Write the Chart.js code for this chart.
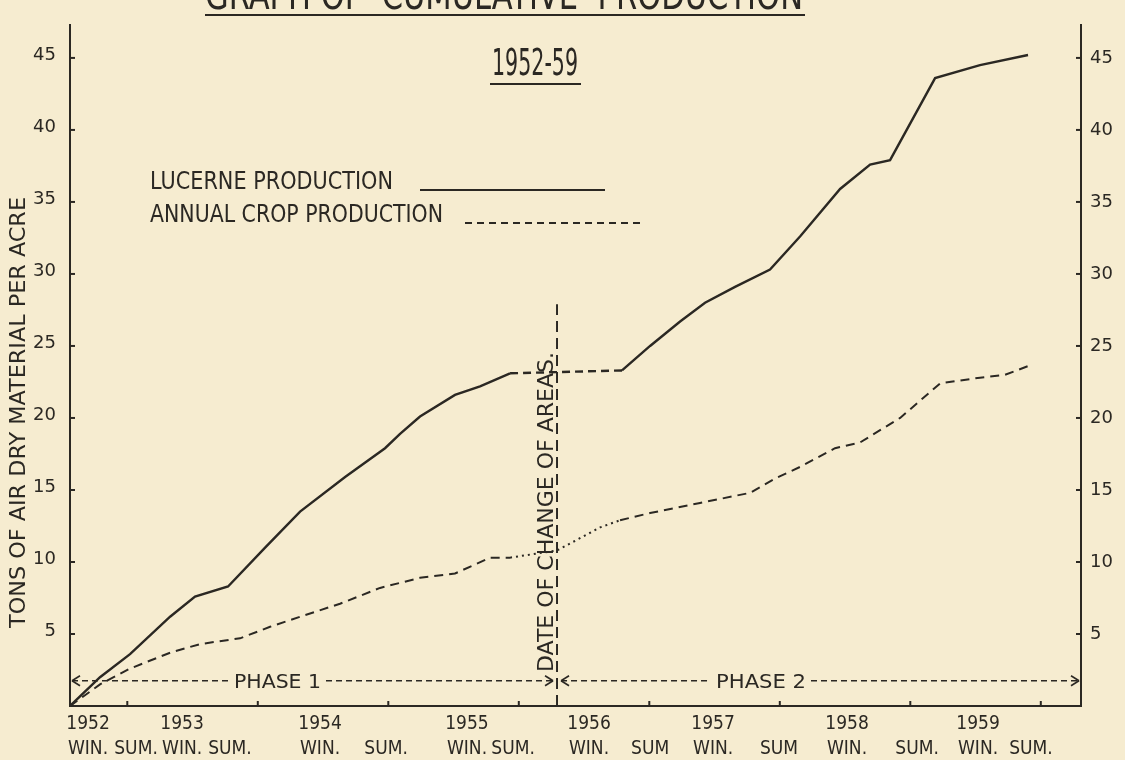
<!DOCTYPE html>
<html>
<head>
<meta charset="utf-8">
<title>Graph of cumulative production 1952-59</title>
<script src="https://cdn.jsdelivr.net/npm/chart.js@4.4.1/dist/chart.umd.min.js"></script>
<style>
  html, body { margin: 0; padding: 0; background: #f6ecd0; }
  #wrap { width: 1125px; height: 760px; position: relative; }
</style>
</head>
<body>
<div id="wrap"><canvas id="production-chart"></canvas></div>
<script>
// Data - x is the date as a decimal year, y is cumulative tons per acre

const lucerneYears = [1952.061, 1952.291, 1952.521, 1952.828, 1953.019, 1953.272, 1953.556, 1953.824,
  1954.169, 1954.475, 1954.590, 1954.743, 1955.011, 1955.203, 1955.433, 1956.291, 1956.506, 1956.736,
  1956.927, 1957.157, 1957.425, 1957.655, 1957.962, 1958.192, 1958.345, 1958.690, 1959.034, 1959.402];
const lucerneTons = [0, 2.0, 3.6, 6.2, 7.6, 8.3, 11.0, 13.5,
  15.9, 17.9, 18.9, 20.1, 21.6, 22.2, 23.1, 23.3, 25.0, 26.7,
  28.0, 29.1, 30.3, 32.6, 35.9, 37.6, 37.9, 43.6, 44.5, 45.2];

const annualYears = [1952.061, 1952.291, 1952.521, 1952.828, 1953.058, 1953.364, 1953.594, 1953.824,
  1954.130, 1954.437, 1954.743, 1955.011, 1955.280, 1955.433, 1955.793, 1956.123, 1956.276, 1956.506,
  1956.889, 1957.272, 1957.464, 1957.655, 1957.923, 1958.115, 1958.422, 1958.728, 1959.034, 1959.226, 1959.402];
const annualTons = [0, 1.5, 2.6, 3.7, 4.3, 4.7, 5.5, 6.2,
  7.1, 8.2, 8.9, 9.2, 10.3, 10.3, 10.8, 12.4, 12.9, 13.4,
  14.1, 14.8, 15.8, 16.6, 17.9, 18.3, 20.0, 22.4, 22.8, 23.0, 23.6];

const seasonLabels = ["WIN.", "SUM.", "WIN.", "SUM.", "WIN.", "SUM.", "WIN.", "SUM.",
  "WIN.", "SUM", "WIN.", "SUM", "WIN.", "SUM.", "WIN.", "SUM."];
const seasonYears = [1952.199, 1952.567, 1952.920, 1953.287, 1953.977, 1954.483, 1955.103, 1955.456,
  1956.038, 1956.506, 1956.989, 1957.494, 1958.015, 1958.552, 1959.019, 1959.425];
const yearLabels = ["1952", "1953", "1954", "1955", "1956", "1957", "1958", "1959"];
const midYearTicks = [1952.5, 1953.5, 1954.5, 1955.5, 1956.5, 1957.5, 1958.5, 1959.5];
const tonTicks = [5, 10, 15, 20, 25, 30, 35, 40, 45];

const changeDate = 1955.793;   // date of change of areas
const changeTop = 27.9;
const bridgeStart = 1955.433;  // lucerne dashed / annual dotted across the change
const bridgeEnd = 1956.291;
const phaseLevel = 1.75;

// Look

const ink = "#2b2823";
const paper = "#f6ecd0";
const face = "DejaVu Sans";
const narrow = "'Liberation Sans Narrow', 'DejaVu Sans Condensed', sans-serif";

const toPoints = (xs, ys) => xs.map((x, i) => ({ x: x, y: ys[i] }));
const inBridge = ctx => ctx.p0.parsed.x >= bridgeStart - 0.001 && ctx.p1.parsed.x <= bridgeEnd + 0.001;

// draw text squeezed or stretched to a given width
function fitText(ctx, text, x, y, width, size, angle) {
  ctx.save();
  ctx.font = size + "px " + face;
  const w = ctx.measureText(text).width;
  ctx.translate(x, y);
  if (angle) ctx.rotate(angle);
  ctx.scale(width / w, 1);
  ctx.textAlign = "left";
  ctx.textBaseline = "alphabetic";
  ctx.fillStyle = ink;
  ctx.fillText(text, 0, 0);
  ctx.restore();
}

function line(ctx, x0, y0, x1, y1, width, dash) {
  ctx.save();
  ctx.strokeStyle = ink;
  ctx.lineWidth = width;
  ctx.setLineDash(dash || []);
  ctx.beginPath();
  ctx.moveTo(x0, y0);
  ctx.lineTo(x1, y1);
  ctx.stroke();
  ctx.restore();
}

function phaseArrow(ctx, x0, x1, y, label, t0, t1) {
  line(ctx, x0 + 2, y, t0 - 5, y, 1.6, [6, 4]);
  line(ctx, t1 + 5, y, x1 - 2, y, 1.6, [6, 4]);
  line(ctx, x0 + 10, y - 5, x0 + 2, y, 1.6);
  line(ctx, x0 + 10, y + 5, x0 + 2, y, 1.6);
  line(ctx, x1 - 10, y - 5, x1 - 2, y, 1.6);
  line(ctx, x1 - 10, y + 5, x1 - 2, y, 1.6);
  fitText(ctx, label, t0, y + 7.5, t1 - t0, 20);
}

// Background

const paperPlugin = {
  id: "paper",
  beforeDraw(chart) {
    const ctx = chart.ctx;
    ctx.save();
    ctx.fillStyle = paper;
    ctx.fillRect(0, 0, chart.width, chart.height);
    ctx.restore();
  }
};

// Titles, legend, phases and the small inward ticks

const notesPlugin = {
  id: "notes",
  afterDatasetsDraw(chart) {
    const ctx = chart.ctx;
    const xs = chart.scales.x;
    const ys = chart.scales.y;
    const area = chart.chartArea;

    tonTicks.forEach(v => {
      const py = ys.getPixelForValue(v);
      line(ctx, area.left, py, area.left + 5, py, 2);
      line(ctx, area.right - 5, py, area.right, py, 2);
    });
    midYearTicks.forEach(v => {
      const px = xs.getPixelForValue(v);
      line(ctx, px, area.bottom, px, area.bottom - 5, 2);
    });

    // heading, cut by the top of the sheet
    fitText(ctx, "GRAPH OF  CUMULATIVE  PRODUCTION", 205, 9, 598, 40);
    line(ctx, 205, 15, 805, 15, 2);
    fitText(ctx, "1952-59", 492, 75, 86, 37);
    line(ctx, 490, 84, 581, 84, 2);

    // legend
    fitText(ctx, "LUCERNE PRODUCTION", 150, 189, 243, 24);
    line(ctx, 420, 190, 605, 190, 2.2);
    fitText(ctx, "ANNUAL CROP PRODUCTION", 150, 222, 293, 25);
    line(ctx, 465, 223, 643, 223, 2, [7, 5]);

    // axis title
    fitText(ctx, "TONS OF AIR DRY MATERIAL PER ACRE", 25, 628, 431, 22, -Math.PI / 2);

    // change of areas
    const cx = xs.getPixelForValue(changeDate);
    fitText(ctx, "DATE OF CHANGE OF AREAS.", cx - 4, 672, 320, 22, -Math.PI / 2);

    // phases
    const py = ys.getPixelForValue(phaseLevel);
    phaseArrow(ctx, area.left, cx - 2, py, "PHASE 1", 234, 321);
    phaseArrow(ctx, cx + 2, area.right, py, "PHASE 2", 716, 806);
  }
};

// Chart

const productionCanvas = document.getElementById("production-chart");

const productionData = {
  datasets: [{
    label: "Lucerne production",
    data: toPoints(lucerneYears, lucerneTons),
    borderColor: ink,
    borderWidth: 2.4,
    pointRadius: 0,
    segment: { borderDash: ctx => inBridge(ctx) ? [8, 5] : undefined }
  }, {
    label: "Annual crop production",
    data: toPoints(annualYears, annualTons),
    borderColor: ink,
    borderWidth: 2,
    borderDash: [9, 6],
    pointRadius: 0,
    segment: { borderDash: ctx => inBridge(ctx) ? [2, 4] : undefined }
  }, {
    label: "Date of change of areas",
    data: [{ x: changeDate, y: 0 }, { x: changeDate, y: changeTop }],
    borderColor: ink,
    borderWidth: 2,
    borderDash: [11, 6],
    pointRadius: 0
  }]
};

const yAxis = (position, width, padding, offset) => ({
  position: position,
  min: 0,
  max: 47.3,
  afterBuildTicks: s => { s.ticks = tonTicks.map(v => ({ value: v })); },
  afterFit: s => { s.width = width; },
  grid: { display: false, drawTicks: false },
  border: { display: true, color: ink, width: 2 },
  ticks: { padding: padding, labelOffset: offset, color: ink, font: { family: face, size: 18 } }
});

const productionOptions = {
  responsive: true,
  maintainAspectRatio: false,
  animation: false,
  layout: { padding: { top: 5 } },
  plugins: {
    legend: { display: false },
    tooltip: { enabled: false }
  },
  scales: {
    x: {
      type: "linear",
      min: 1952.061,
      max: 1959.808,
      afterBuildTicks: s => { s.ticks = seasonYears.map(v => ({ value: v })); },
      afterFit: s => { s.height = 54; },
      grid: { display: false, drawTicks: false },
      border: { display: true, color: ink, width: 2 },
      ticks: {
        autoSkip: false,
        maxRotation: 0,
        padding: 5,
        color: ink,
        font: { family: narrow, size: 19, lineHeight: 1.35 },
        callback: (v, i) => i % 2 === 0 ? [yearLabels[i / 2], seasonLabels[i]] : ["", seasonLabels[i]]
      }
    },
    y: yAxis("left", 70, 14, -3),
    y2: yAxis("right", 44, 9, 0)
  }
};

let productionChart = new Chart(productionCanvas, {
  type: "line",
  data: productionData,
  options: productionOptions,
  plugins: [paperPlugin, notesPlugin]
});
</script>
</body>
</html>
